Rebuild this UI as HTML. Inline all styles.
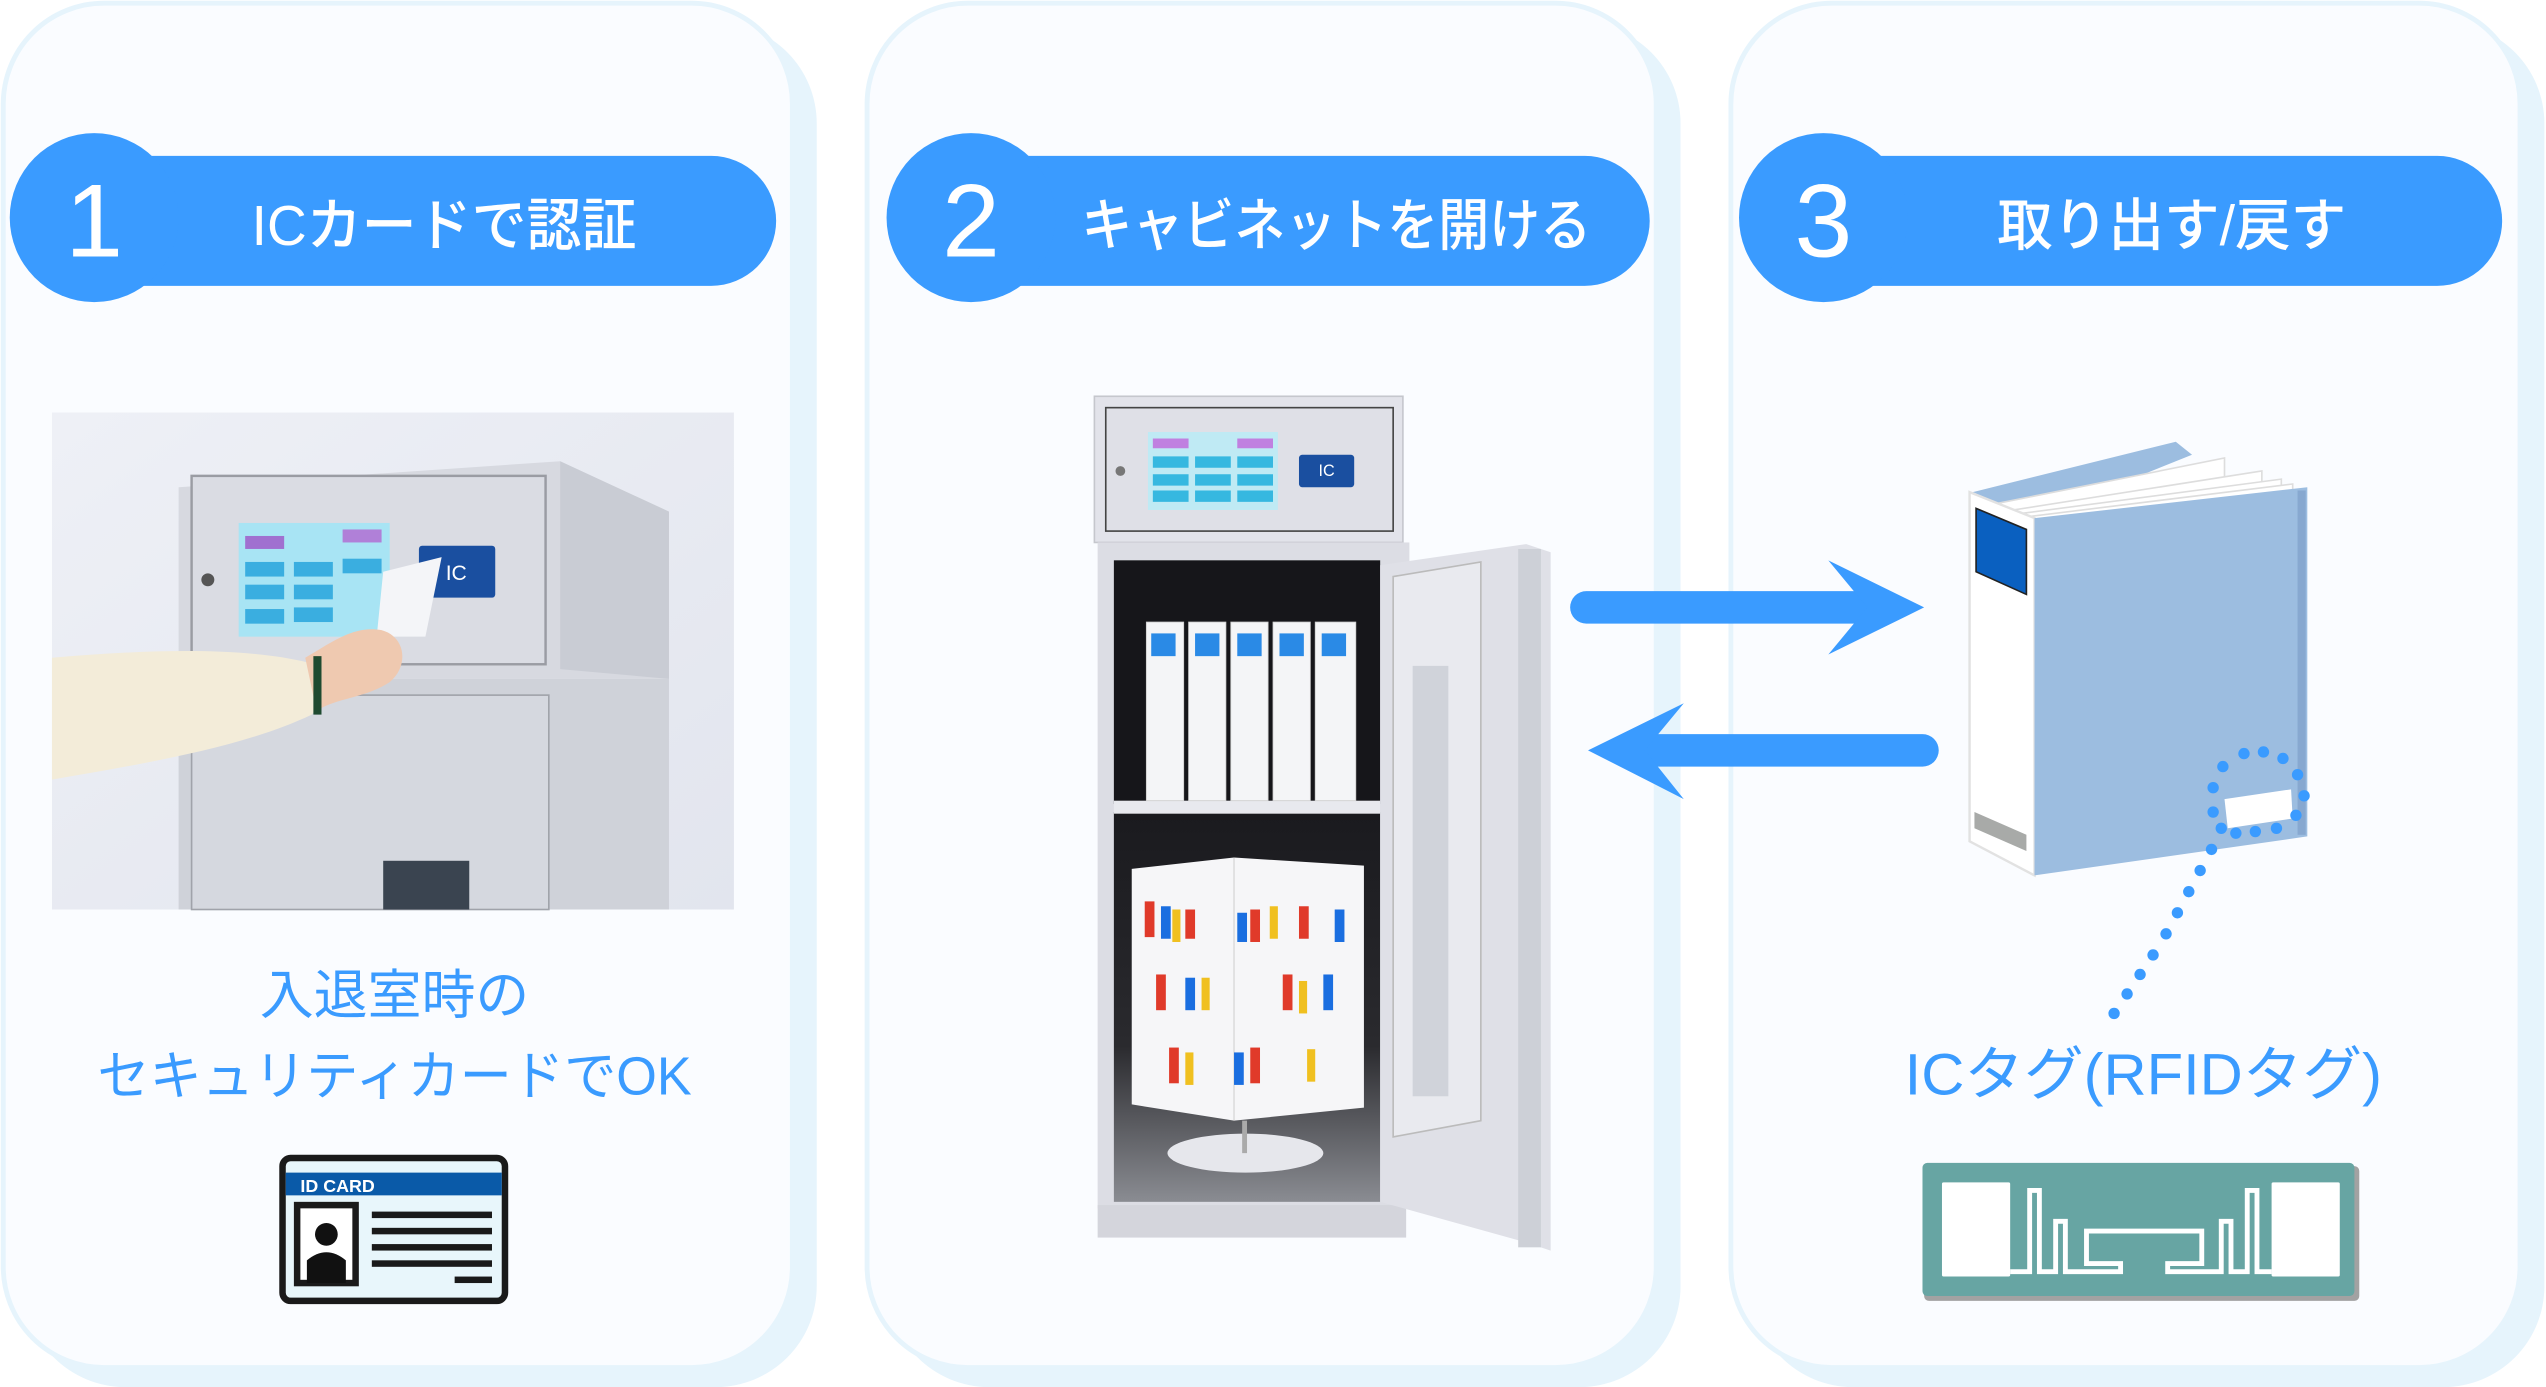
<!DOCTYPE html>
<html><head><meta charset="utf-8"><style>
html,body{margin:0;padding:0;background:#fff;}
svg{display:block;}
text{font-family:"Liberation Sans","Noto Sans CJK JP",sans-serif;}
</style></head><body>
<svg width="2546" height="1387" viewBox="0 0 1568 854" preserveAspectRatio="none" xmlns="http://www.w3.org/2000/svg">
<defs>
<linearGradient id="bg1" x1="0" y1="0" x2="1" y2="1"><stop offset="0" stop-color="#eef0f6"/><stop offset="1" stop-color="#e2e5ee"/></linearGradient>
<linearGradient id="low" x1="0" y1="0" x2="0" y2="1"><stop offset="0" stop-color="#1a1a1e"/><stop offset="0.6" stop-color="#2a2a2e"/><stop offset="1" stop-color="#8a8c92"/></linearGradient>
</defs>
<rect width="1568" height="854" fill="#ffffff"/>
<g>
<rect x="15" y="14" width="488" height="840" rx="62" fill="#e6f4fc"/>
<rect x="2" y="2" width="486" height="840" rx="62" fill="#fafcff" stroke="#e6f4fc" stroke-width="3"/>
<rect x="547" y="14" width="488" height="840" rx="62" fill="#e6f4fc"/>
<rect x="534" y="2" width="486" height="840" rx="62" fill="#fafcff" stroke="#e6f4fc" stroke-width="3"/>
<rect x="1079" y="14" width="488" height="840" rx="62" fill="#e6f4fc"/>
<rect x="1066" y="2" width="486" height="840" rx="62" fill="#fafcff" stroke="#e6f4fc" stroke-width="3"/>
</g>
<g fill="#3a9bff">
<rect x="40" y="96" width="438" height="80" rx="40"/><circle cx="58" cy="134" r="52"/>
<rect x="580" y="96" width="436" height="80" rx="40"/><circle cx="598" cy="134" r="52"/>
<rect x="1105" y="96" width="436" height="80" rx="40"/><circle cx="1123" cy="134" r="52"/>
</g>
<g fill="#fff" font-weight="500">
<text x="58" y="158" font-size="64" text-anchor="middle">1</text>
<text x="598" y="158" font-size="64" text-anchor="middle">2</text>
<text x="1123" y="158" font-size="64" text-anchor="middle">3</text>
<text x="155" y="151" font-size="35" textLength="237" lengthAdjust="spacingAndGlyphs">ICカードで認証</text>
<text x="666" y="151" font-size="35" textLength="314" lengthAdjust="spacingAndGlyphs">キャビネットを開ける</text>
<text x="1230" y="151" font-size="35" textLength="215" lengthAdjust="spacingAndGlyphs">取り出す/戻す</text>
</g>
<!-- photo 1 -->
<rect x="32" y="254" width="420" height="306" fill="url(#bg1)"/>
<polygon points="110,300 345,284 412,315 412,418 110,418" fill="#d7d9e0"/>
<polygon points="345,284 412,315 412,418 345,412" fill="#c9ccd4"/>
<rect x="118" y="293" width="218" height="116" fill="#dadce3" stroke="#9a9ca3" stroke-width="1.5"/>
<rect x="147" y="322" width="93" height="70" fill="#a8e4f4"/>
<g fill="#3aaee0"><rect x="151" y="346" width="24" height="9"/><rect x="181" y="346" width="24" height="9"/><rect x="211" y="344" width="24" height="9"/><rect x="151" y="360" width="24" height="9"/><rect x="181" y="360" width="24" height="9"/><rect x="151" y="375" width="24" height="9"/><rect x="181" y="374" width="24" height="9"/></g>
<rect x="151" y="330" width="24" height="8" fill="#a070d0"/><rect x="211" y="326" width="24" height="8" fill="#b080d8"/>
<rect x="258" y="336" width="47" height="32" rx="2" fill="#1a4fa0"/>
<text x="281" y="357" font-size="13" fill="#fff" text-anchor="middle">IC</text>
<polygon points="236,352 272,343 262,392 232,392" fill="#f4f5f8"/>
<circle cx="128" cy="357" r="4" fill="#555"/>
<rect x="110" y="418" width="302" height="142" fill="#cfd2d9"/>
<rect x="118" y="428" width="220" height="132" fill="#d5d8df" stroke="#a0a3aa" stroke-width="1"/>
<rect x="236" y="530" width="53" height="30" fill="#3a4450"/>
<path d="M32,405 C90,400 150,398 190,408 C205,412 200,432 192,440 C150,460 90,470 32,480 Z" fill="#f3ecd9"/>
<path d="M188,405 C205,395 218,385 235,388 C250,392 252,410 240,420 C225,430 205,430 195,438 Z" fill="#efc9b0"/>
<rect x="193" y="404" width="5" height="36" fill="#1f4a30"/>
<g fill="#3a9bff" font-size="33">
<text x="160" y="624" textLength="166" lengthAdjust="spacingAndGlyphs">入退室時の</text>
<text x="60" y="674" textLength="366" lengthAdjust="spacingAndGlyphs">セキュリティカードでOK</text>
</g>
<rect x="174" y="713" width="137" height="88" rx="5" fill="#e8f6fb" stroke="#1a1a1a" stroke-width="4"/>
<rect x="176" y="722" width="133" height="14" fill="#0a5aa8"/>
<text x="185" y="734" font-size="11" fill="#fff" font-weight="bold">ID CARD</text>
<rect x="183" y="742" width="36" height="48" fill="#fff" stroke="#1a1a1a" stroke-width="4"/>
<circle cx="201" cy="760" r="7" fill="#111"/><path d="M189,790 L189,776 Q201,766 213,776 L213,790 Z" fill="#111"/>
<g fill="#1a1a1a"><rect x="229" y="746" width="74" height="4"/><rect x="229" y="756" width="74" height="4"/><rect x="229" y="766" width="74" height="4"/><rect x="229" y="776" width="74" height="4"/><rect x="280" y="786" width="23" height="4"/></g>
<!-- cabinet -->
<rect x="674" y="244" width="190" height="90" fill="#e2e3ea" stroke="#c5c7cd"/>
<rect x="681" y="251" width="177" height="76" fill="#dfe0e7" stroke="#444" stroke-width="1"/>
<rect x="707" y="266" width="80" height="48" fill="#bfeaf4"/>
<g fill="#36b8e0"><rect x="710" y="281" width="22" height="7"/><rect x="736" y="281" width="22" height="7"/><rect x="762" y="281" width="22" height="7"/><rect x="710" y="292" width="22" height="7"/><rect x="736" y="292" width="22" height="7"/><rect x="762" y="292" width="22" height="7"/><rect x="710" y="302" width="22" height="7"/><rect x="736" y="302" width="22" height="7"/><rect x="762" y="302" width="22" height="7"/></g>
<rect x="710" y="270" width="22" height="6" fill="#c080e0"/><rect x="762" y="270" width="22" height="6" fill="#c080e0"/>
<rect x="800" y="280" width="34" height="20" rx="2" fill="#1a4fa0"/><text x="817" y="293" font-size="10" fill="#fff" text-anchor="middle">IC</text>
<circle cx="690" cy="290" r="3" fill="#777"/>
<rect x="676" y="334" width="192" height="410" fill="#dcdde4"/>
<rect x="686" y="345" width="164" height="150" fill="#16161a"/>
<rect x="686" y="500" width="164" height="240" fill="url(#low)"/>
<rect x="686" y="493" width="164" height="8" fill="#e8e9ee"/>
<g fill="#f4f5f7" stroke="#ccc" stroke-width="0.5">
<rect x="706" y="383" width="23" height="110"/><rect x="732" y="383" width="23" height="110"/><rect x="758" y="383" width="23" height="110"/><rect x="784" y="383" width="23" height="110"/><rect x="810" y="383" width="25" height="110"/>
</g>
<g fill="#2a8ae6"><rect x="709" y="390" width="15" height="14"/><rect x="736" y="390" width="15" height="14"/><rect x="762" y="390" width="15" height="14"/><rect x="788" y="390" width="15" height="14"/><rect x="814" y="390" width="15" height="14"/></g>
<polygon points="697,535 760,528 840,533 840,682 760,690 697,680" fill="#f6f6f8"/>
<line x1="760" y1="528" x2="760" y2="690" stroke="#ddd"/>
<g fill="#e03a2a"><rect x="705" y="555" width="6" height="22"/><rect x="730" y="560" width="6" height="18"/><rect x="770" y="560" width="6" height="20"/><rect x="800" y="558" width="6" height="20"/><rect x="712" y="600" width="6" height="22"/><rect x="790" y="600" width="6" height="22"/><rect x="770" y="645" width="6" height="22"/><rect x="720" y="645" width="6" height="22"/></g>
<g fill="#1a6ee0"><rect x="715" y="558" width="6" height="20"/><rect x="762" y="562" width="6" height="18"/><rect x="822" y="560" width="6" height="20"/><rect x="730" y="602" width="6" height="20"/><rect x="815" y="600" width="6" height="22"/><rect x="760" y="648" width="6" height="20"/></g>
<g fill="#f0c020"><rect x="722" y="560" width="5" height="20"/><rect x="782" y="558" width="5" height="20"/><rect x="740" y="602" width="5" height="20"/><rect x="800" y="604" width="5" height="20"/><rect x="730" y="648" width="5" height="20"/><rect x="805" y="646" width="5" height="20"/></g>
<ellipse cx="767" cy="710" rx="48" ry="12" fill="#e6e7ec"/>
<rect x="765" y="690" width="3" height="20" fill="#aaa"/>
<rect x="676" y="742" width="190" height="20" fill="#d4d5dc"/>
<polygon points="850,348 940,335 955,340 955,770 940,765 850,740" fill="#dfe0e7"/>
<polygon points="858,355 912,346 912,690 858,700" fill="#e9eaef" stroke="#bbb" stroke-width="1"/>
<rect x="870" y="410" width="22" height="265" fill="#d0d3da"/>
<rect x="935" y="338" width="14" height="430" fill="#cdd0d7"/>
<!-- arrows -->
<g fill="none" stroke="#3a9bff" stroke-width="20" stroke-linecap="round">
<line x1="977" y1="374" x2="1160" y2="374"/>
<line x1="1184" y1="462" x2="1005" y2="462"/>
</g>
<polygon points="1126,345 1185,374 1126,403 1150,374" fill="#3a9bff"/>
<polygon points="1037,433 978,462 1037,492 1013,462" fill="#3a9bff"/>
<!-- binder -->
<polygon points="1215,303 1340,272 1350,280 1253,319" fill="#9cbde0"/>
<g fill="#fff" stroke="#ddd" stroke-width="1">
<polygon points="1230,310 1370,282 1370,300 1253,320"/>
<polygon points="1240,314 1393,290 1393,305 1253,322"/>
<polygon points="1246,316 1405,295 1405,306 1253,322"/>
<polygon points="1250,318 1412,298 1412,306 1253,322"/>
</g>
<polygon points="1213,303 1253,319 1253,539 1213,518" fill="#fff" stroke="#e2e2e2" stroke-width="1.5"/>
<polygon points="1217,313 1248,326 1248,366 1217,352" fill="#0a60c0" stroke="#222" stroke-width="1"/>
<polygon points="1216,500 1248,514 1248,524 1216,510" fill="#a8aaa8"/>
<polygon points="1253,319 1421,300 1421,515 1253,539" fill="#9cbde0"/>
<rect x="1415" y="302" width="5" height="212" fill="#87a8d0"/>
<polygon points="1370,492 1411,486 1412,504 1372,510" fill="#fff"/>
<g fill="#3a9bff">
<circle cx="1363" cy="500" r="3.5"/><circle cx="1363" cy="485" r="3.5"/><circle cx="1369" cy="472" r="3.5"/><circle cx="1382" cy="464" r="3.5"/><circle cx="1394" cy="463" r="3.5"/><circle cx="1406" cy="467" r="3.5"/><circle cx="1415" cy="477" r="3.5"/><circle cx="1419" cy="490" r="3.5"/><circle cx="1414" cy="502" r="3.5"/><circle cx="1402" cy="510" r="3.5"/><circle cx="1389" cy="512" r="3.5"/><circle cx="1377" cy="513" r="3.5"/><circle cx="1368" cy="510" r="3.5"/>
<circle cx="1362" cy="523" r="3.5"/><circle cx="1355" cy="536" r="3.5"/><circle cx="1348" cy="549" r="3.5"/><circle cx="1341" cy="562" r="3.5"/><circle cx="1334" cy="575" r="3.5"/><circle cx="1326" cy="588" r="3.5"/><circle cx="1318" cy="600" r="3.5"/><circle cx="1310" cy="612" r="3.5"/><circle cx="1302" cy="624" r="3.5"/>
</g>
<text x="1173" y="674" font-size="36" fill="#3a9bff" textLength="294" lengthAdjust="spacingAndGlyphs">ICタグ(RFIDタグ)</text>
<!-- RFID tag -->
<rect x="1185" y="718" width="268" height="83" rx="3" fill="#a2a2a2"/>
<rect x="1184" y="716" width="266" height="82" rx="3" fill="#67a5a3"/>
<rect x="1196" y="728" width="42" height="58" rx="1" fill="#fff"/>
<rect x="1399" y="728" width="42" height="58" rx="1" fill="#fff"/>
<path d="M1238,783 L1250,783 L1250,733 L1256,733 L1256,783 L1266,783 L1266,752 L1272,752 L1272,783 L1306,783 L1306,778 L1285,778 L1285,758 L1356,758 L1356,778 L1335,778 L1335,783 L1368,783 L1368,752 L1374,752 L1374,783 L1384,783 L1384,733 L1390,733 L1390,783 L1399,783" fill="none" stroke="#fff" stroke-width="3"/>
</svg>
</body></html>
